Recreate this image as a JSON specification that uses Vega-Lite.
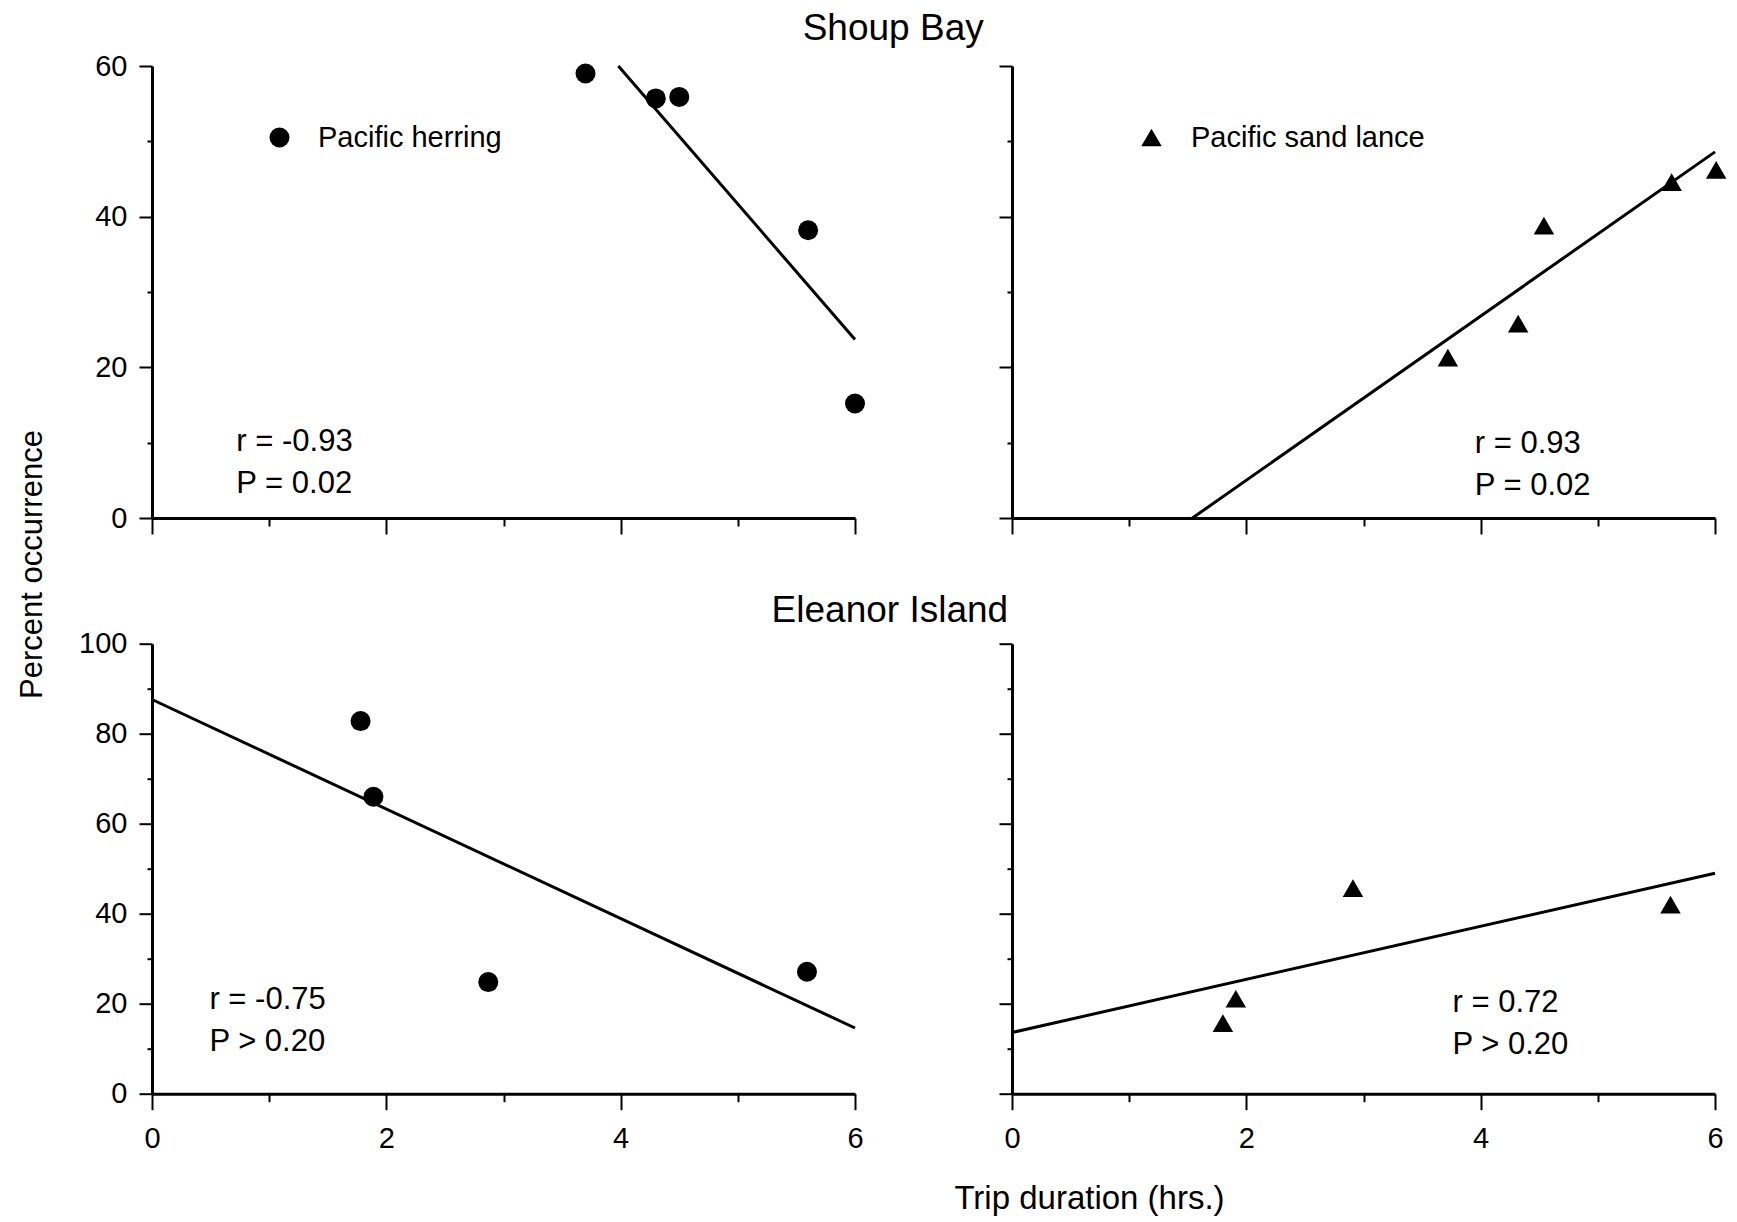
{
  "$schema": "https://vega.github.io/schema/vega-lite/v6.json",
  "padding": {"left": 16, "top": 9, "right": 0, "bottom": 0},
  "background": "white",
  "config": {
    "view": {"stroke": null},
    "font": "Liberation Sans",
    "axis": {"grid": false, "labelFlush": false, "domainColor": "black", "domainWidth": 3, "tickColor": "black", "tickWidth": 2, "labelColor": "black", "labelFont": "Liberation Sans", "labelFontSize": 29, "titleFont": "Liberation Sans", "titleColor": "black", "titleFontWeight": "normal"},
    "legend": {"labelFont": "Liberation Sans", "labelColor": "black", "labelLimit": 0}
  },
  "datasets": {
    "pts": [
      {"site": "Shoup Bay", "species": "Pacific herring", "x": 3.70, "y": 59.0},
      {"site": "Shoup Bay", "species": "Pacific herring", "x": 4.30, "y": 55.7},
      {"site": "Shoup Bay", "species": "Pacific herring", "x": 4.50, "y": 55.9},
      {"site": "Shoup Bay", "species": "Pacific herring", "x": 5.60, "y": 38.2},
      {"site": "Shoup Bay", "species": "Pacific herring", "x": 6.00, "y": 15.2},
      {"site": "Shoup Bay", "species": "Pacific sand lance", "x": 3.72, "y": 21.3},
      {"site": "Shoup Bay", "species": "Pacific sand lance", "x": 4.32, "y": 25.8},
      {"site": "Shoup Bay", "species": "Pacific sand lance", "x": 4.54, "y": 38.8},
      {"site": "Shoup Bay", "species": "Pacific sand lance", "x": 5.63, "y": 44.6},
      {"site": "Shoup Bay", "species": "Pacific sand lance", "x": 6.01, "y": 46.2},
      {"site": "Eleanor Island", "species": "Pacific herring", "x": 1.78, "y": 82.8},
      {"site": "Eleanor Island", "species": "Pacific herring", "x": 1.89, "y": 66.0},
      {"site": "Eleanor Island", "species": "Pacific herring", "x": 2.87, "y": 24.8},
      {"site": "Eleanor Island", "species": "Pacific herring", "x": 5.59, "y": 27.1},
      {"site": "Eleanor Island", "species": "Pacific sand lance", "x": 1.80, "y": 15.7},
      {"site": "Eleanor Island", "species": "Pacific sand lance", "x": 1.91, "y": 21.1},
      {"site": "Eleanor Island", "species": "Pacific sand lance", "x": 2.91, "y": 45.7},
      {"site": "Eleanor Island", "species": "Pacific sand lance", "x": 5.62, "y": 42.0}
    ],
    "fit": [
      {"site": "Shoup Bay", "species": "Pacific herring", "x": 3.98, "y": 60.0},
      {"site": "Shoup Bay", "species": "Pacific herring", "x": 6.0, "y": 23.7},
      {"site": "Shoup Bay", "species": "Pacific sand lance", "x": 1.54, "y": 0},
      {"site": "Shoup Bay", "species": "Pacific sand lance", "x": 6.0, "y": 48.6},
      {"site": "Eleanor Island", "species": "Pacific herring", "x": 0, "y": 87.6},
      {"site": "Eleanor Island", "species": "Pacific herring", "x": 6.0, "y": 14.6},
      {"site": "Eleanor Island", "species": "Pacific sand lance", "x": 0, "y": 13.6},
      {"site": "Eleanor Island", "species": "Pacific sand lance", "x": 6.0, "y": 49.0}
    ],
    "ann": [
      {"site": "Shoup Bay", "species": "Pacific herring", "x": 0.72, "y": 8.9, "label": "r = -0.93"},
      {"site": "Shoup Bay", "species": "Pacific herring", "x": 0.72, "y": 3.37, "label": "P = 0.02"},
      {"site": "Shoup Bay", "species": "Pacific sand lance", "x": 3.95, "y": 8.67, "label": "r = 0.93"},
      {"site": "Shoup Bay", "species": "Pacific sand lance", "x": 3.95, "y": 3.06, "label": "P = 0.02"},
      {"site": "Eleanor Island", "species": "Pacific herring", "x": 0.49, "y": 18.8, "label": "r = -0.75"},
      {"site": "Eleanor Island", "species": "Pacific herring", "x": 0.49, "y": 9.5, "label": "P > 0.20"},
      {"site": "Eleanor Island", "species": "Pacific sand lance", "x": 3.76, "y": 18.1, "label": "r = 0.72"},
      {"site": "Eleanor Island", "species": "Pacific sand lance", "x": 3.76, "y": 8.8, "label": "P > 0.20"}
    ]
  },
  "vconcat": [
    {
      "title": {"text": "Shoup Bay", "fontSize": 37, "font": "Liberation Sans", "fontWeight": "normal", "anchor": "middle", "dx": 22, "offset": -24.5, "baseline": "alphabetic", "color": "black"},
      "bounds": "flush",
      "spacing": 157,
      "hconcat": [
        {
          "width": 703, "height": 452,
          "encoding": {
            "x": {"field": "x", "type": "quantitative", "scale": {"domain": [0, 6], "nice": false, "zero": false},
              "axis": {"values": [0, 1, 2, 3, 4, 5, 6], "labels": false, "title": null, "tickSize": {"condition": {"test": "datum.value % 2 === 0", "value": 16}, "value": 8}}},
            "y": {"field": "y", "type": "quantitative", "scale": {"domain": [0, 60], "nice": false, "zero": false},
              "axis": {"values": [0, 10, 20, 30, 40, 50, 60], "labelExpr": "datum.value % 20 === 0 ? datum.label : ''", "labelPadding": 12, "tickSize": {"condition": {"test": "datum.value % 20 === 0", "value": 13}, "value": 5},
                "title": "Percent occurrence", "titleFontSize": 31, "titleX": -111, "titleY": 498, "titleAngle": 270, "titleAlign": "center", "titleBaseline": "alphabetic"}}
          },
          "layer": [
            {"data": {"name": "fit"}, "transform": [{"filter": "datum.site === 'Shoup Bay' && datum.species === 'Pacific herring'"}],
              "mark": {"type": "line", "color": "black", "strokeWidth": 3}},
            {"data": {"name": "pts"}, "transform": [{"filter": "datum.site === 'Shoup Bay' && datum.species === 'Pacific herring'"}],
              "mark": {"type": "point", "filled": true, "color": "black", "opacity": 1, "size": 400},
              "encoding": {"shape": {"field": "species", "type": "nominal", "scale": {"domain": ["Pacific herring"], "range": ["circle"]},
                "legend": {"orient": "none", "legendX": 113, "legendY": 57, "title": null, "padding": 0, "labelFontSize": 29, "labelOffset": 24, "labelLimit": 0, "symbolSize": 400, "symbolFillColor": "black", "symbolStrokeColor": "black", "symbolOpacity": 1, "symbolStrokeWidth": 0}}}},
            {"data": {"name": "ann"}, "transform": [{"filter": "datum.site === 'Shoup Bay' && datum.species === 'Pacific herring'"}],
              "mark": {"type": "text", "align": "left", "baseline": "alphabetic", "fontSize": 31, "font": "Liberation Sans", "color": "black"},
              "encoding": {"text": {"field": "label"}}}
          ]
        },
        {
          "width": 703, "height": 452,
          "encoding": {
            "x": {"field": "x", "type": "quantitative", "scale": {"domain": [0, 6], "nice": false, "zero": false},
              "axis": {"values": [0, 1, 2, 3, 4, 5, 6], "labels": false, "title": null, "tickSize": {"condition": {"test": "datum.value % 2 === 0", "value": 16}, "value": 8}}},
            "y": {"field": "y", "type": "quantitative", "scale": {"domain": [0, 60], "nice": false, "zero": false},
              "axis": {"values": [0, 10, 20, 30, 40, 50, 60], "labels": false, "title": null, "tickSize": {"condition": {"test": "datum.value % 20 === 0", "value": 13}, "value": 5}}}
          },
          "layer": [
            {"data": {"name": "fit"}, "transform": [{"filter": "datum.site === 'Shoup Bay' && datum.species === 'Pacific sand lance'"}],
              "mark": {"type": "line", "color": "black", "strokeWidth": 3}},
            {"data": {"name": "pts"}, "transform": [{"filter": "datum.site === 'Shoup Bay' && datum.species === 'Pacific sand lance'"}],
              "mark": {"type": "point", "filled": true, "color": "black", "opacity": 1, "size": 420},
              "encoding": {"shape": {"field": "species", "type": "nominal", "scale": {"domain": ["Pacific sand lance"], "range": ["triangle-up"]},
                "legend": {"orient": "none", "legendX": 125, "legendY": 57, "title": null, "padding": 0, "labelFontSize": 29, "labelOffset": 25, "labelLimit": 0, "symbolSize": 420, "symbolFillColor": "black", "symbolStrokeColor": "black", "symbolOpacity": 1, "symbolStrokeWidth": 0}}}},
            {"data": {"name": "ann"}, "transform": [{"filter": "datum.site === 'Shoup Bay' && datum.species === 'Pacific sand lance'"}],
              "mark": {"type": "text", "align": "left", "baseline": "alphabetic", "fontSize": 31, "font": "Liberation Sans", "color": "black"},
              "encoding": {"text": {"field": "label"}}}
          ]
        }
      ],
      "resolve": {"scale": {"x": "independent", "y": "independent", "shape": "independent"}, "legend": {"shape": "independent"}, "axis": {"x": "independent", "y": "independent"}}
    },
    {
      "title": {"text": "Eleanor Island", "fontSize": 37, "font": "Liberation Sans", "fontWeight": "normal", "anchor": "middle", "dx": -11, "offset": -29.6, "baseline": "alphabetic", "color": "black"},
      "bounds": "flush",
      "spacing": 157,
      "hconcat": [
        {
          "width": 703, "height": 450,
          "encoding": {
            "x": {"field": "x", "type": "quantitative", "scale": {"domain": [0, 6], "nice": false, "zero": false},
              "axis": {"values": [0, 1, 2, 3, 4, 5, 6], "labelExpr": "datum.value % 2 === 0 ? datum.label : ''", "labelFontSize": 29, "labelPadding": 15, "title": null, "tickSize": {"condition": {"test": "datum.value % 2 === 0", "value": 16}, "value": 8}}},
            "y": {"field": "y", "type": "quantitative", "scale": {"domain": [0, 100], "nice": false, "zero": false},
              "axis": {"values": [0, 10, 20, 30, 40, 50, 60, 70, 80, 90, 100], "labelExpr": "datum.value % 20 === 0 ? datum.label : ''", "labelPadding": 12, "title": null, "tickSize": {"condition": {"test": "datum.value % 20 === 0", "value": 13}, "value": 5}}}
          },
          "layer": [
            {"data": {"name": "fit"}, "transform": [{"filter": "datum.site === 'Eleanor Island' && datum.species === 'Pacific herring'"}],
              "mark": {"type": "line", "color": "black", "strokeWidth": 3}},
            {"data": {"name": "pts"}, "transform": [{"filter": "datum.site === 'Eleanor Island' && datum.species === 'Pacific herring'"}],
              "mark": {"type": "point", "filled": true, "color": "black", "opacity": 1, "size": 400, "shape": "circle"}},
            {"data": {"name": "ann"}, "transform": [{"filter": "datum.site === 'Eleanor Island' && datum.species === 'Pacific herring'"}],
              "mark": {"type": "text", "align": "left", "baseline": "alphabetic", "fontSize": 31, "font": "Liberation Sans", "color": "black"},
              "encoding": {"text": {"field": "label"}}}
          ]
        },
        {
          "width": 703, "height": 450,
          "encoding": {
            "x": {"field": "x", "type": "quantitative", "scale": {"domain": [0, 6], "nice": false, "zero": false},
              "axis": {"values": [0, 1, 2, 3, 4, 5, 6], "labelExpr": "datum.value % 2 === 0 ? datum.label : ''", "labelFontSize": 29, "labelPadding": 15, "tickSize": {"condition": {"test": "datum.value % 2 === 0", "value": 16}, "value": 8},
                "title": "Trip duration (hrs.)", "titleFontSize": 33, "titleX": 77, "titleY": 115, "titleAlign": "center", "titleBaseline": "alphabetic"}},
            "y": {"field": "y", "type": "quantitative", "scale": {"domain": [0, 100], "nice": false, "zero": false},
              "axis": {"values": [0, 10, 20, 30, 40, 50, 60, 70, 80, 90, 100], "labels": false, "title": null, "tickSize": {"condition": {"test": "datum.value % 20 === 0", "value": 13}, "value": 5}}}
          },
          "layer": [
            {"data": {"name": "fit"}, "transform": [{"filter": "datum.site === 'Eleanor Island' && datum.species === 'Pacific sand lance'"}],
              "mark": {"type": "line", "color": "black", "strokeWidth": 3}},
            {"data": {"name": "pts"}, "transform": [{"filter": "datum.site === 'Eleanor Island' && datum.species === 'Pacific sand lance'"}],
              "mark": {"type": "point", "filled": true, "color": "black", "opacity": 1, "size": 420, "shape": "triangle-up"}},
            {"data": {"name": "ann"}, "transform": [{"filter": "datum.site === 'Eleanor Island' && datum.species === 'Pacific sand lance'"}],
              "mark": {"type": "text", "align": "left", "baseline": "alphabetic", "fontSize": 31, "font": "Liberation Sans", "color": "black"},
              "encoding": {"text": {"field": "label"}}}
          ]
        }
      ],
      "resolve": {"scale": {"x": "independent", "y": "independent"}, "axis": {"x": "independent", "y": "independent"}}
    }
  ],
  "bounds": "flush",
  "spacing": 577.7,
  "resolve": {"scale": {"x": "independent", "y": "independent", "shape": "independent"}, "legend": {"shape": "independent"}, "axis": {"x": "independent", "y": "independent"}}
}
